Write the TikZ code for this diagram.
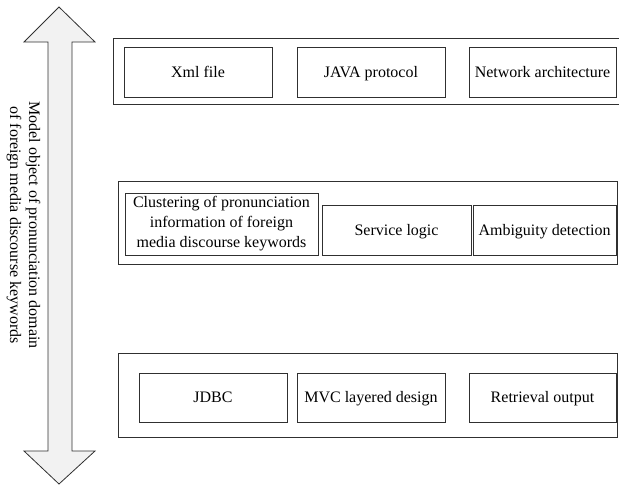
\documentclass[tikz,border=0pt]{standalone}
\usepackage{fontspec}
\setmainfont{Liberation Serif}
\definecolor{arrowfill}{HTML}{F2F2F2}
\definecolor{linecol}{HTML}{303030}
\begin{document}
\begin{tikzpicture}[x=1pt,y=-1pt,
  every node/.style={font=\fontsize{16}{20}\selectfont, text=black, inner sep=0pt},
  outerbox/.style={draw=linecol, line width=0.9pt, anchor=center},
  innerbox/.style={draw=linecol, line width=0.9pt, anchor=center, align=center},
  oneline/.style={innerbox, text height=10.6pt, text depth=0pt},
  bigarrow/.style={draw=linecol, line width=0.8pt, fill=arrowfill}]
\useasboundingbox (0,0) rectangle (619,485);
\clip (0,0) rectangle (619,485);
% double arrow
\draw[bigarrow] (59,7) -- (95,42) -- (72,42) -- (72,451) -- (95,451) -- (59,484)
  -- (24,451) -- (48,451) -- (48,42) -- (24,42) -- cycle;
\node[rotate=-90, align=center, font=\fontsize{16}{19}\selectfont] (label) at (23.5,225)
  {Model object of pronunciation domain\\of foreign media discourse keywords};
% top layer
\node[outerbox, minimum width=508, minimum height=66] (top) at (367,71) {};
\node[oneline, minimum width=148, minimum height=50] (xml) at (198,72) {Xml file};
\node[oneline, minimum width=148, minimum height=50] (java) at (371,72) {JAVA protocol};
\node[oneline, minimum width=147, minimum height=50] (net) at (542.5,72) {Network architecture};
% middle layer
\node[outerbox, minimum width=499, minimum height=83] (mid) at (367.5,222.5) {};
\node[innerbox, minimum width=193, minimum height=62] (clu) at (221.5,224)
  {Clustering of pronunciation\\information of foreign\\media discourse keywords};
\node[oneline, minimum width=149, minimum height=50] (svc) at (396.5,230) {Service logic};
\node[oneline, minimum width=143, minimum height=50] (amb) at (544.5,230) {Ambiguity detection};
% bottom layer
\node[outerbox, minimum width=499, minimum height=84] (bot) at (367.5,395) {};
\node[oneline, minimum width=148, minimum height=49] (jdbc) at (213,397.5) {JDBC};
\node[oneline, minimum width=148, minimum height=49] (mvc) at (371,397.5) {MVC layered design};
\node[oneline, minimum width=147, minimum height=49] (ret) at (542.5,397.5) {Retrieval output};
\end{tikzpicture}
\end{document}
